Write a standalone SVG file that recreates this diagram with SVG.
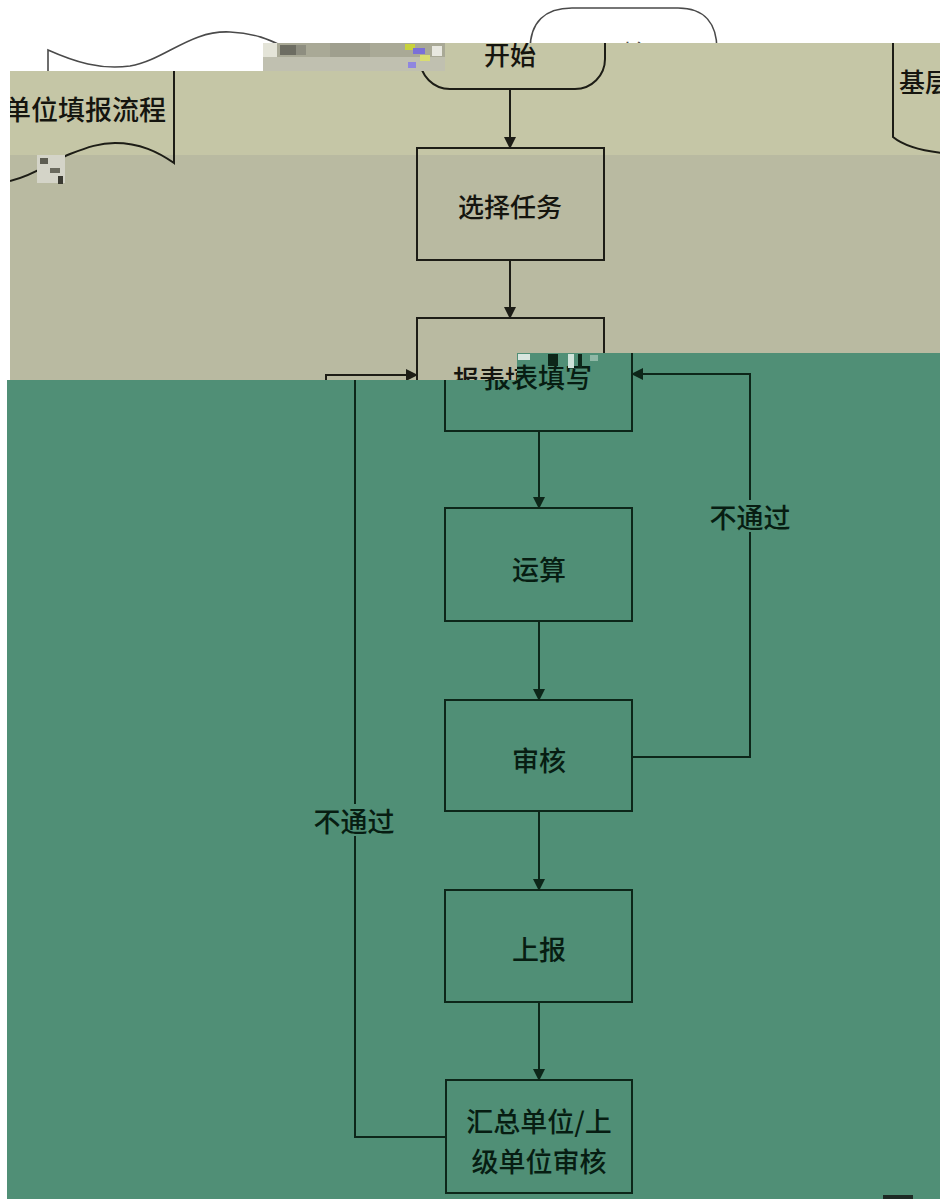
<svg xmlns="http://www.w3.org/2000/svg" width="940" height="1199" viewBox="0 0 940 1199">
<defs>
<style>
.wl{fill:none;stroke:#4a4a4a;stroke-width:1.6}
.ln{fill:none;stroke:#1d1d16;stroke-width:2}
.gl{fill:none;stroke:#0d2619;stroke-width:2}
.tt{font-family:"Noto Sans CJK SC","Noto Sans",sans-serif;font-size:26px;font-weight:500;fill:#15150f;text-anchor:middle;dominant-baseline:central}
.gt{font-family:"Noto Sans CJK SC","Noto Sans",sans-serif;font-size:27px;font-weight:500;fill:#071d12;text-anchor:middle;dominant-baseline:central}
.wt{font-family:"Noto Sans CJK SC","Noto Sans",sans-serif;font-size:26px;fill:#555;text-anchor:middle;dominant-baseline:central}
</style>
<marker id="ah" markerWidth="12" markerHeight="12" refX="11" refY="6" orient="auto" markerUnits="userSpaceOnUse"><path d="M0,0 L12,6 L0,12 z" fill="#1d1d16"/></marker>
<marker id="ahg" markerWidth="12" markerHeight="12" refX="11" refY="6" orient="auto" markerUnits="userSpaceOnUse"><path d="M0,0 L12,6 L0,12 z" fill="#0d2619"/></marker>
<clipPath id="cTan"><polygon points="10,71 263,71 263,43 940,43 940,380 10,380"/></clipPath>
<clipPath id="cGreen"><polygon points="7,380 517,380 517,353 940,353 940,1199 7,1199"/></clipPath>
</defs>

<rect width="940" height="1199" fill="#ffffff"/>

<!-- top white band (original positions) -->
<g id="white-band">
  <path class="wl" d="M48,75 L48,50 C75,62 100,70 130,66 C165,60 190,30 230,32 C255,33 270,40 282,46"/>
  <path class="wl" d="M530,50 C530,22 545,8 572,8 L678,8 C705,8 717,24 717,50"/>
  <text class="wt" x="622" y="52">开始</text>
</g>

<!-- tan bands -->
<polygon points="10,71 263,71 263,43 940,43 940,155 10,155" fill="#c5c6a6"/>
<rect x="10" y="155" width="930" height="225" fill="#b9baa1"/>

<g clip-path="url(#cTan)">
  <g id="title-left">
    <path class="ln" d="M174,65 L174,163 C158,152 140,143 115,143 C100,143 88,147 70,154 C55,160 35,175 10,181"/>
    <text class="tt" x="166" y="108" style="text-anchor:end;font-size:27px">单位填报流程</text>
  </g>
  <g id="title-right">
    <path class="ln" d="M893,40 L893,137 C905,147 925,151 942,153"/>
    <text class="tt" x="899" y="80" style="text-anchor:start">基层</text>
  </g>
  <g id="start-tan">
    <rect class="ln" x="420" y="-10" width="185" height="99" rx="30"/>
    <text class="tt" x="510" y="53">开始</text>
  </g>
  <g id="select-task">
    <rect class="ln" x="417" y="148" width="187" height="112"/>
    <text class="tt" x="510" y="205">选择任务</text>
  </g>
  <g id="fill-report-tan">
    <rect class="ln" x="417" y="318" width="187" height="100"/>
    <text class="tt" x="505" y="377">报表填写</text>
  </g>
  <g id="connectors-tan">
    <line class="ln" x1="510" y1="89" x2="510" y2="148" marker-end="url(#ah)"/>
    <line class="ln" x1="510" y1="260" x2="510" y2="318" marker-end="url(#ah)"/>
    <path class="ln" d="M326,390 L326,375 L417,375" marker-end="url(#ah)"/>
  </g>
</g>

<!-- glitch strips -->
<g id="glitch-top">
  <rect x="263" y="43" width="182" height="14" fill="#a9a996"/>
  <rect x="263" y="57" width="182" height="14" fill="#c0c0b0"/>
  <rect x="263" y="43" width="14" height="14" fill="#e4e4d8"/>
  <rect x="280" y="45" width="16" height="10" fill="#6d6d62"/>
  <rect x="296" y="45" width="10" height="10" fill="#8e8e80"/>
  <rect x="330" y="43" width="40" height="14" fill="#9f9f8e"/>
  <rect x="405" y="44" width="10" height="6" fill="#c8d23c"/>
  <rect x="413" y="48" width="12" height="6" fill="#7a6fd8"/>
  <rect x="420" y="55" width="10" height="6" fill="#d9dd70"/>
  <rect x="432" y="46" width="10" height="10" fill="#e8e8e0"/>
  <rect x="408" y="62" width="8" height="6" fill="#8f86e0"/>
</g>
<g id="glitch-left">
  <rect x="37" y="155" width="28" height="28" fill="#d4d4c8"/>
  <rect x="40" y="158" width="8" height="6" fill="#5d5d52"/>
  <rect x="50" y="168" width="10" height="5" fill="#6a6a5e"/>
  <rect x="58" y="176" width="5" height="8" fill="#3a3a32"/>
</g>

<!-- green band -->
<polygon points="7,380 517,380 517,353 940,353 940,1199 7,1199" fill="#508f76"/>

<g clip-path="url(#cGreen)">
  <g id="connectors">
    <line class="gl" x1="539" y1="431" x2="539" y2="508" marker-end="url(#ahg)"/>
    <line class="gl" x1="539" y1="621" x2="539" y2="700" marker-end="url(#ahg)"/>
    <line class="gl" x1="539" y1="811" x2="539" y2="890" marker-end="url(#ahg)"/>
    <line class="gl" x1="539" y1="1002" x2="539" y2="1080" marker-end="url(#ahg)"/>
    <path class="gl" d="M632,757 L750,757 L750,374 L632,374" marker-end="url(#ahg)"/>
    <path class="gl" d="M446,1137 L355,1137 L355,370"/>
    <rect x="704" y="500" width="92" height="32" fill="#508f76"/>
    <text class="gt" x="750" y="516">不通过</text>
    <rect x="309" y="804" width="92" height="32" fill="#508f76"/>
    <text class="gt" x="354" y="820">不通过</text>
  </g>
  <g id="fill-report">
    <rect class="gl" x="445" y="300" width="187" height="131"/>
    <text class="gt" x="538" y="376">报表填写</text>
  </g>
  <g id="compute">
    <rect class="gl" x="445" y="508" width="187" height="113"/>
    <text class="gt" x="539" y="568">运算</text>
  </g>
  <g id="review">
    <rect class="gl" x="445" y="700" width="187" height="111"/>
    <text class="gt" x="539" y="759">审核</text>
  </g>
  <g id="submit">
    <rect class="gl" x="445" y="890" width="187" height="112"/>
    <text class="gt" x="539" y="948">上报</text>
  </g>
  <g id="upper-review">
    <rect class="gl" x="446" y="1080" width="186" height="113"/>
    <text class="gt" x="539" y="1120">汇总单位/上</text>
    <text class="gt" x="539" y="1160">级单位审核</text>
  </g>
  <g id="glitch-green">
    <rect x="518" y="354" width="12" height="6" fill="#d8e6df"/>
    <rect x="548" y="354" width="10" height="12" fill="#0d2619"/>
    <rect x="568" y="354" width="6" height="14" fill="#cfe3da"/>
    <rect x="578" y="354" width="4" height="14" fill="#0d2619"/>
    <rect x="590" y="355" width="8" height="6" fill="#8fb8a6"/>
    <rect x="883" y="1195" width="30" height="4" fill="#1d2a24"/>
  </g>
</g>
</svg>
